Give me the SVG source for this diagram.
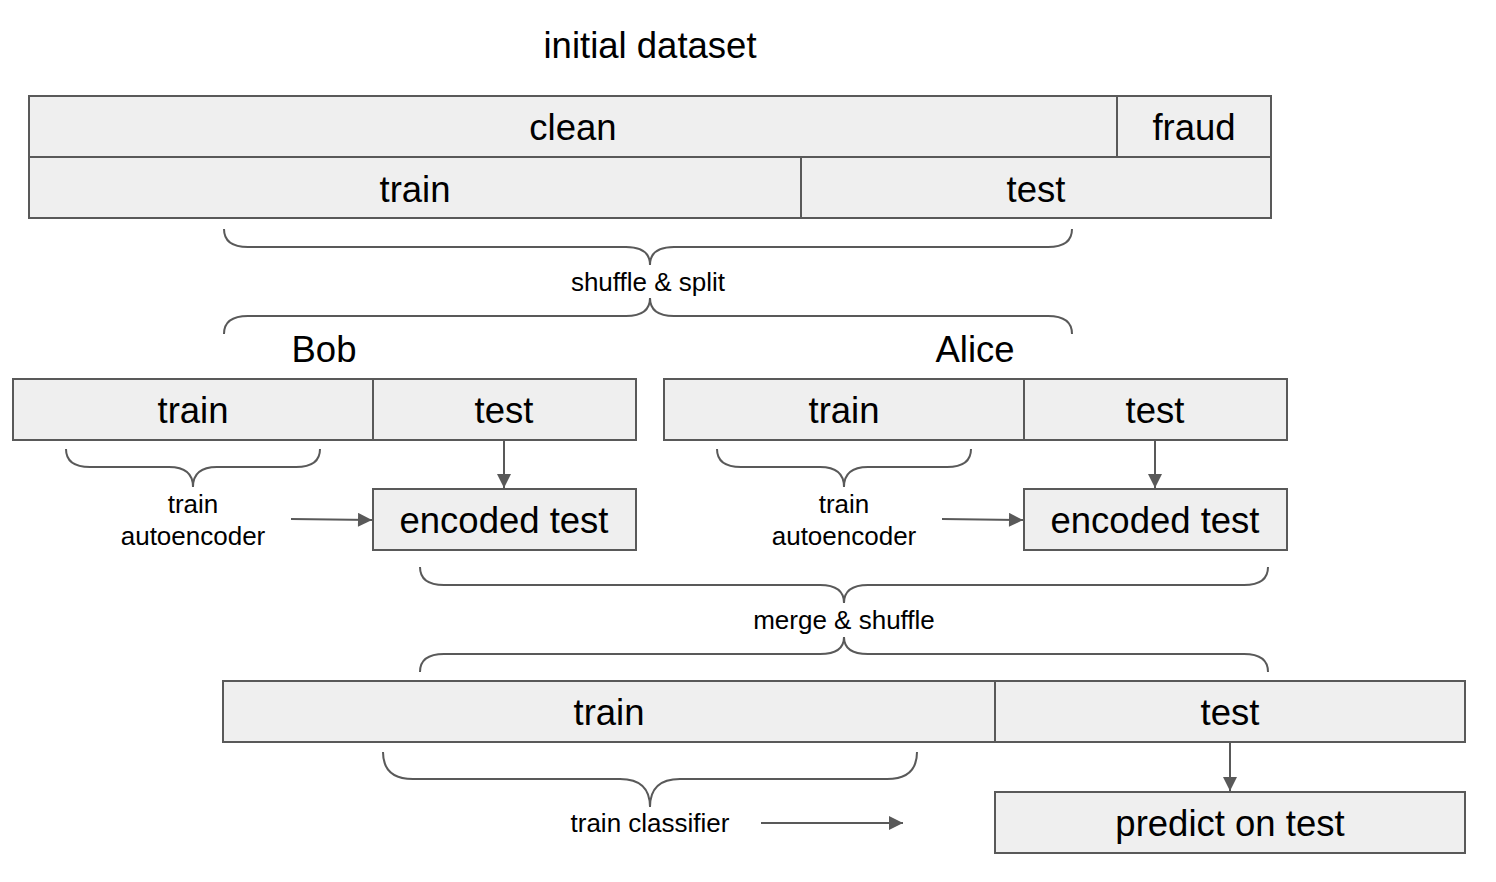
<svg xmlns="http://www.w3.org/2000/svg" width="1496" height="882" viewBox="0 0 1496 882">
<defs>
<style>
.box{fill:#efefef;stroke:#595959;stroke-width:2}
.big{font-family:"Liberation Sans",Arial,sans-serif;font-size:36.5px;fill:#000;text-anchor:middle;dominant-baseline:central}
.sm{font-family:"Liberation Sans",Arial,sans-serif;font-size:26px;fill:#000;text-anchor:middle;dominant-baseline:central}
.brace{fill:none;stroke:#595959;stroke-width:2}
.conn{fill:none;stroke:#595959;stroke-width:2}
</style>
<marker id="ah" viewBox="0 0 10 10" refX="10" refY="5" markerWidth="8" markerHeight="7" markerUnits="strokeWidth" orient="auto">
<path d="M0,0 L10,5 L0,10 z" fill="#595959"/>
</marker>
</defs>
<rect width="1496" height="882" fill="#fff"/>

<text class="big" x="650" y="45">initial dataset</text>

<g id="clean"><rect class="box" x="29" y="96" width="1088" height="61"/><text class="big" x="573" y="127">clean</text></g>
<g id="fraud"><rect class="box" x="1117" y="96" width="154" height="61"/><text class="big" x="1194" y="127">fraud</text></g>
<g id="train0"><rect class="box" x="29" y="157" width="772" height="61"/><text class="big" x="415" y="189">train</text></g>
<g id="test0"><rect class="box" x="801" y="157" width="470" height="61"/><text class="big" x="1036" y="189">test</text></g>

<g id="shuffle">
<path class="brace" d="M224,229 Q224,247 248,247 L626,247 Q650,247 650,265 Q650,247 674,247 L1048,247 Q1072,247 1072,229"/>
<text class="sm" x="648" y="282">shuffle &amp; split</text>
<path class="brace" d="M224,334 Q224,316 248,316 L626,316 Q650,316 650,298 Q650,316 674,316 L1048,316 Q1072,316 1072,334"/>
</g>

<text class="big" x="324" y="349">Bob</text>
<text class="big" x="975" y="349">Alice</text>

<g id="bob-train"><rect class="box" x="13" y="379" width="360" height="61"/><text class="big" x="193" y="410">train</text></g>
<g id="bob-test"><rect class="box" x="373" y="379" width="263" height="61"/><text class="big" x="504" y="410">test</text></g>
<g id="bob-enc"><rect class="box" x="373" y="489" width="263" height="61"/><text class="big" x="504" y="520">encoded test</text></g>
<g id="bob-ae">
<path class="brace" d="M66,449 Q66,467 90,467 L169,467 Q193,467 193,487 Q193,467 217,467 L296,467 Q320,467 320,449"/>
<text class="sm" x="193" y="504">train</text>
<text class="sm" x="193" y="536">autoencoder</text>
</g>

<g id="alice-train"><rect class="box" x="664" y="379" width="360" height="61"/><text class="big" x="844" y="410">train</text></g>
<g id="alice-test"><rect class="box" x="1024" y="379" width="263" height="61"/><text class="big" x="1155" y="410">test</text></g>
<g id="alice-enc"><rect class="box" x="1024" y="489" width="263" height="61"/><text class="big" x="1155" y="520">encoded test</text></g>
<g id="alice-ae">
<path class="brace" d="M717,449 Q717,467 741,467 L820,467 Q844,467 844,487 Q844,467 868,467 L947,467 Q971,467 971,449"/>
<text class="sm" x="844" y="504">train</text>
<text class="sm" x="844" y="536">autoencoder</text>
</g>

<g id="merge">
<path class="brace" d="M420,567 Q420,585 444,585 L820,585 Q844,585 844,603 Q844,585 868,585 L1244,585 Q1268,585 1268,567"/>
<text class="sm" x="844" y="620">merge &amp; shuffle</text>
<path class="brace" d="M420,672 Q420,654 444,654 L820,654 Q844,654 844,637 Q844,654 868,654 L1244,654 Q1268,654 1268,672"/>
</g>

<g id="train2"><rect class="box" x="223" y="681" width="772" height="61"/><text class="big" x="609" y="712">train</text></g>
<g id="test2"><rect class="box" x="995" y="681" width="470" height="61"/><text class="big" x="1230" y="712">test</text></g>
<g id="predict"><rect class="box" x="995" y="792" width="470" height="61"/><text class="big" x="1230" y="823">predict on test</text></g>
<g id="classifier">
<path class="brace" d="M383,752 Q383,779 413,779 L620,779 Q650,779 650,807 Q650,779 680,779 L887,779 Q917,779 917,752"/>
<text class="sm" x="650" y="823">train classifier</text>
</g>

<g id="connectors">
<line class="conn" x1="504" y1="440" x2="504" y2="488" marker-end="url(#ah)"/>
<line class="conn" x1="1155" y1="440" x2="1155" y2="488" marker-end="url(#ah)"/>
<line class="conn" x1="291" y1="519" x2="372" y2="520" marker-end="url(#ah)"/>
<line class="conn" x1="942" y1="519" x2="1023" y2="520" marker-end="url(#ah)"/>
<line class="conn" x1="1230" y1="742" x2="1230" y2="791" marker-end="url(#ah)"/>
<line class="conn" x1="761" y1="823" x2="903" y2="823" marker-end="url(#ah)"/>
</g>
</svg>
